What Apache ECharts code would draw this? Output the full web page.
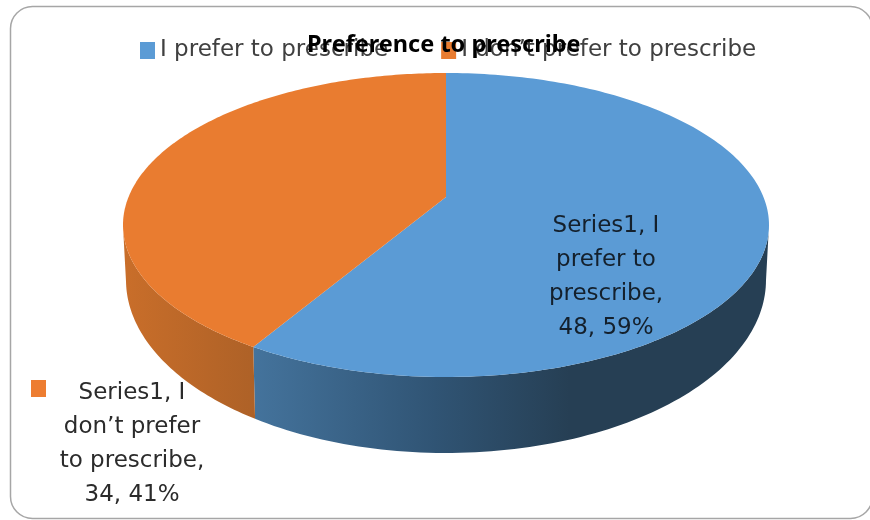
<!DOCTYPE html>
<html><head><meta charset="utf-8">
<style>html,body{margin:0;padding:0;background:#fff}#c{width:870px;height:520px;filter:blur(0.45px)}</style>
<script src="https://cdn.jsdelivr.net/npm/echarts@6/dist/echarts.min.js"></script>
</head><body><div id="c"></div>
<script>
const seriesName = 'Series1';
const chartTitle = 'Preference to prescribe';
const categories = ['I prefer to prescribe', 'I don’t prefer to prescribe'];
const values = [48, 34];
const percents = [59, 41];
const labelLines = [
  ['Series1, I', 'prefer to', 'prescribe,', '48, 59%'],
  ['Series1, I', 'don’t prefer', 'to prescribe,', '34, 41%']
];
const topColors = ['#5b9bd5', '#e97c30'];

const FONT = '"DejaVu Sans", sans-serif';
const TITLE_FONT = '"Noto Sans", sans-serif';
const G = {cx: 446, top: {cy: 225, rx: 323, ry: 152}, bot: {cy: 280, rx: 320, ry: 173}, d: -0.184};
const labelPos = [{x: 606, y: 209}, {x: 132, y: 376, key: {x: 31, y: 380}}];
const wallStops = [
  [[254, '#44739c'], [435, '#305474'], [570, '#263f54'], [769, '#263f54']],
  [[123, '#c96e2a'], [258, '#ad6127']]
];
const total = values.reduce((a, b) => a + b, 0);

// disk -> perspective ellipse: pie centre projects off the ellipse centre
function norm(frac) {
  const a = frac * 2 * Math.PI, u = Math.sin(a), v = -Math.cos(a), k = 1 + G.d * v;
  return [u * Math.sqrt(1 - G.d * G.d) / k, (v + G.d) / k];
}
function onEll(n, e) { return [G.cx + e.rx * n[0], e.cy + e.ry * n[1]]; }

function renderSlice(idx) {
  return function (params, api) {
    const start = values.slice(0, idx).reduce((a, b) => a + b, 0) / total;
    const end = start + api.value(0) / total;
    const steps = 180, topPts = [], wallT = [], wallB = [];
    topPts.push(onEll([0, G.d], G.top));
    for (let i = 0; i <= steps; i++) {
      const n = norm(start + (end - start) * i / steps);
      topPts.push(onEll(n, G.top));
      if (n[1] >= 0) { wallT.push(onEll(n, G.top)); wallB.push(onEll(n, G.bot)); }
    }
    const stops = wallStops[idx], x0 = stops[0][0], x1 = stops[stops.length - 1][0];
    const wallPts = wallT.concat(wallB.slice().reverse());
    const xs = wallPts.map(p => p[0]);
    const minX = Math.min.apply(null, xs), maxX = Math.max.apply(null, xs);
    const grad = new echarts.graphic.LinearGradient(
      (x0 - minX) / (maxX - minX), 0, (x1 - minX) / (maxX - minX), 0,
      stops.map(s => ({offset: (s[0] - x0) / (x1 - x0), color: s[1]})));
    const lp = labelPos[idx];
    const children = [
      {type: 'polygon', z2: 1, shape: {points: wallPts}, style: {fill: grad}},
      {type: 'polygon', z2: 5, shape: {points: topPts}, style: {fill: topColors[idx]}},
      {type: 'text', z2: 10, style: {x: lp.x, y: lp.y, text: labelLines[idx].join('\n'), fill: idx ? '#2b2b2b' : '#14202c',
        font: '23px ' + FONT, lineHeight: 34, align: 'center', verticalAlign: 'top'}}
    ];
    if (lp.key) children.push({type: 'rect', z2: 10, shape: {x: lp.key.x, y: lp.key.y, width: 15, height: 17}, style: {fill: '#ed7d31'}});
    return {type: 'group', children};
  };
}

const chart = echarts.init(document.getElementById('c'), null, {renderer: 'canvas'});
chart.setOption({
  animation: false,
  backgroundColor: '#fff',
  title: {text: chartTitle, left: 302, top: 28, textStyle: {fontFamily: TITLE_FONT, fontSize: 23.5, fontWeight: 'bold', color: '#000'}, z: 20},
  legend: {
    left: 140, top: 39, padding: 0, itemWidth: 15, itemHeight: 17, itemGap: 53, itemTextGap: 7, icon: 'rect',
    data: categories,
    textStyle: {fontFamily: FONT, fontSize: 23, color: '#404040'}
  },
  xAxis: {show: false}, yAxis: {show: false},
  graphic: [{type: 'rect', silent: true, z: -1, shape: {x: 10.5, y: 6.5, width: 862, height: 512, r: 22},
    style: {fill: '#fff', stroke: '#a6a6a6', lineWidth: 1.5}}],
  series: categories.map((name, i) => ({
    type: 'custom', name, coordinateSystem: 'none', silent: true,
    itemStyle: {color: topColors[i]},
    data: [[values[i]]], renderItem: renderSlice(i), clip: false
  }))
});
</script></body></html>
